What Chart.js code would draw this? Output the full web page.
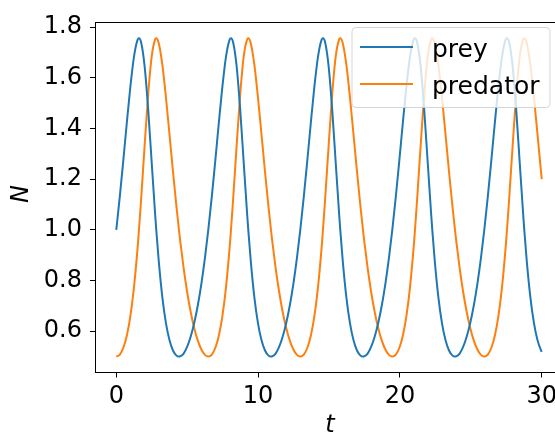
<!DOCTYPE html>
<html>
<head>
<meta charset="utf-8">
<script src="https://cdn.jsdelivr.net/npm/chart.js@4"></script>
<style>
  html, body { margin: 0; padding: 0; background: #fff; overflow: hidden; }
  canvas { display: block; }
</style>
</head>
<body>
<canvas id="lv" width="575" height="434"></canvas>
<script>
// time samples (t) and the two populations
const t = [
  0, 0.25, 0.5, 0.75, 1, 1.25, 1.5, 1.6, 1.75, 2, 2.25, 2.5, 2.75, 2.82, 3, 3.25, 3.5, 3.75, 4, 4.25, 4.42, 4.5, 4.75, 5, 5.25, 5.5, 5.75, 6, 6.25,
  6.488, 6.738, 6.988, 7.238, 7.488, 7.738, 7.988, 8.088, 8.238, 8.488, 8.738, 8.988, 9.238, 9.308, 9.488, 9.738, 9.988, 10.238, 10.488, 10.738, 10.908, 10.988, 11.238, 11.488, 11.738, 11.988, 12.238, 12.488, 12.738,
  12.975, 13.225, 13.475, 13.725, 13.975, 14.225, 14.475, 14.575, 14.725, 14.975, 15.225, 15.475, 15.725, 15.795, 15.975, 16.225, 16.475, 16.725, 16.975, 17.225, 17.395, 17.475, 17.725, 17.975, 18.225, 18.475, 18.725, 18.975, 19.225,
  19.463, 19.713, 19.963, 20.213, 20.463, 20.713, 20.963, 21.063, 21.213, 21.463, 21.713, 21.963, 22.213, 22.283, 22.463, 22.713, 22.963, 23.213, 23.463, 23.713, 23.883, 23.963, 24.213, 24.463, 24.713, 24.963, 25.213, 25.463, 25.713,
  25.95, 26.2, 26.45, 26.7, 26.95, 27.2, 27.45, 27.55, 27.7, 27.95, 28.2, 28.45, 28.7, 28.77, 28.95, 29.2, 29.45, 29.7, 29.95, 30
];
const prey = [
  1.0000, 1.1324, 1.2768, 1.4263, 1.5684, 1.6844, 1.7500, 1.7564, 1.7410, 1.6455, 1.4751, 1.2644, 1.0544, 1.0000, 0.8739, 0.7339, 0.6332, 0.5654, 0.5241, 0.5038, 0.5000, 0.5008, 0.5120, 0.5393, 0.5794, 0.6336, 0.7026, 0.7874, 0.8886,
  1.0000, 1.1324, 1.2768, 1.4263, 1.5684, 1.6844, 1.7500, 1.7564, 1.7410, 1.6455, 1.4751, 1.2644, 1.0544, 1.0000, 0.8739, 0.7339, 0.6332, 0.5654, 0.5241, 0.5038, 0.5000, 0.5008, 0.5120, 0.5393, 0.5794, 0.6336, 0.7026, 0.7874, 0.8886,
  1.0000, 1.1324, 1.2768, 1.4263, 1.5684, 1.6844, 1.7500, 1.7564, 1.7410, 1.6455, 1.4751, 1.2644, 1.0544, 1.0000, 0.8739, 0.7339, 0.6332, 0.5654, 0.5241, 0.5038, 0.5000, 0.5008, 0.5120, 0.5393, 0.5794, 0.6336, 0.7026, 0.7874, 0.8886,
  1.0000, 1.1324, 1.2768, 1.4263, 1.5684, 1.6844, 1.7500, 1.7564, 1.7410, 1.6455, 1.4751, 1.2644, 1.0544, 1.0000, 0.8739, 0.7339, 0.6332, 0.5654, 0.5241, 0.5038, 0.5000, 0.5008, 0.5120, 0.5393, 0.5794, 0.6336, 0.7026, 0.7874, 0.8886,
  1.0000, 1.1324, 1.2768, 1.4263, 1.5684, 1.6844, 1.7500, 1.7564, 1.7410, 1.6455, 1.4751, 1.2644, 1.0544, 1.0000, 0.8739, 0.7339, 0.6332, 0.5654, 0.5241, 0.5185
];
const predator = [
  0.5000, 0.5082, 0.5348, 0.5839, 0.6614, 0.7741, 0.9274, 1.0000, 1.1193, 1.3335, 1.5359, 1.6853, 1.7531, 1.7564, 1.7361, 1.6516, 1.5248, 1.3786, 1.2297, 1.0886, 1.0000, 0.9609, 0.8492, 0.7541, 0.6752, 0.6118, 0.5629, 0.5279, 0.5068,
  0.5000, 0.5082, 0.5348, 0.5839, 0.6614, 0.7741, 0.9274, 1.0000, 1.1193, 1.3335, 1.5359, 1.6853, 1.7531, 1.7564, 1.7361, 1.6516, 1.5248, 1.3786, 1.2297, 1.0886, 1.0000, 0.9609, 0.8492, 0.7541, 0.6752, 0.6118, 0.5629, 0.5279, 0.5068,
  0.5000, 0.5082, 0.5348, 0.5839, 0.6614, 0.7741, 0.9274, 1.0000, 1.1193, 1.3335, 1.5359, 1.6853, 1.7531, 1.7564, 1.7361, 1.6516, 1.5248, 1.3786, 1.2297, 1.0886, 1.0000, 0.9609, 0.8492, 0.7541, 0.6752, 0.6118, 0.5629, 0.5279, 0.5068,
  0.5000, 0.5082, 0.5348, 0.5839, 0.6614, 0.7741, 0.9274, 1.0000, 1.1193, 1.3335, 1.5359, 1.6853, 1.7531, 1.7564, 1.7361, 1.6516, 1.5248, 1.3786, 1.2297, 1.0886, 1.0000, 0.9609, 0.8492, 0.7541, 0.6752, 0.6118, 0.5629, 0.5279, 0.5068,
  0.5000, 0.5082, 0.5348, 0.5839, 0.6614, 0.7741, 0.9274, 1.0000, 1.1193, 1.3335, 1.5359, 1.6853, 1.7531, 1.7564, 1.7361, 1.6516, 1.5248, 1.3786, 1.2297, 1.2008
];
const seriesNames = ['prey', 'predator'];
const xTicks = [0, 10, 20, 30];
const yTicks = [0.6, 0.8, 1.0, 1.2, 1.4, 1.6, 1.8];

const FONT = 'DejaVu Sans';
const tickFont = { family: FONT, size: 24 };

function pts(vals) {
  return t.map(function (v, i) { return { x: v, y: vals[i] }; });
}

// top spine, axis labels and the legend box
const extras = {
  id: 'extras',
  afterDraw: function (chart) {
    const ctx = chart.ctx, a = chart.chartArea;
    const top = Math.floor(a.top) + 0.5;
    ctx.save();
    ctx.strokeStyle = '#000';
    ctx.lineWidth = 1;
    ctx.beginPath();
    ctx.moveTo(Math.floor(a.left), top);
    ctx.lineTo(a.right, top);
    ctx.moveTo(Math.floor(a.right) - 0.5, top);
    ctx.lineTo(Math.floor(a.right) - 0.5, a.bottom);
    ctx.stroke();

    // axis labels
    ctx.fillStyle = '#000';
    ctx.font = 'italic 24px "' + FONT + '"';
    ctx.textAlign = 'center';
    ctx.textBaseline = 'middle';
    ctx.fillText('t', 330, 426);
    ctx.save();
    ctx.translate(22, 194);
    ctx.rotate(-Math.PI / 2);
    ctx.fillText('N', 0, 0);
    ctx.restore();

    // legend
    const bx = 352, by = 27.5, bw = 198, bh = 80, r = 4;
    ctx.beginPath();
    ctx.moveTo(bx + r, by);
    ctx.arcTo(bx + bw, by, bx + bw, by + bh, r);
    ctx.arcTo(bx + bw, by + bh, bx, by + bh, r);
    ctx.arcTo(bx, by + bh, bx, by, r);
    ctx.arcTo(bx, by, bx + bw, by, r);
    ctx.closePath();
    ctx.fillStyle = 'rgba(255,255,255,0.8)';
    ctx.fill();
    ctx.strokeStyle = 'rgba(204,204,204,0.8)';
    ctx.stroke();

    const rows = [47, 84];
    chart.data.datasets.forEach(function (ds, i) {
      ctx.strokeStyle = ds.borderColor;
      ctx.lineWidth = 2;
      ctx.beginPath();
      ctx.moveTo(360, rows[i]);
      ctx.lineTo(413, rows[i]);
      ctx.stroke();
      ctx.fillStyle = '#000';
      ctx.font = '25px "' + FONT + '"';
      ctx.textAlign = 'left';
      ctx.textBaseline = 'alphabetic';
      ctx.fillText(ds.label, 432, rows[i] + 9.5);
    });
    ctx.restore();
  }
};

new Chart(document.getElementById('lv'), {
  type: 'line',
  data: {
    datasets: [
      { label: seriesNames[0], data: pts(prey), borderColor: '#1f77b4' },
      { label: seriesNames[1], data: pts(predator), borderColor: '#ff7f0e' }
    ]
  },
  options: {
    responsive: false,
    animation: false,
    devicePixelRatio: 1,
    layout: { padding: { top: 14.5, right: 12, left: 0, bottom: 0 } },
    elements: {
      point: { radius: 0 },
      line: { borderWidth: 2, cubicInterpolationMode: 'monotone', fill: false }
    },
    plugins: { legend: { display: false }, tooltip: { enabled: false } },
    scales: {
      x: {
        type: 'linear',
        min: -1.5,
        max: 31.5,
        afterBuildTicks: function (s) { s.ticks = xTicks.map(function (v) { return { value: v }; }); },
        afterFit: function (s) { s.height = 61.5; },
        ticks: { font: tickFont, color: '#000', padding: 5, maxRotation: 0, autoSkip: false,
                 callback: function (v) { return String(v); } },
        grid: { drawOnChartArea: false, drawTicks: true, tickLength: 5, color: '#000', lineWidth: 1 },
        border: { display: true, color: '#000', width: 1 }
      },
      y: {
        min: 0.4372,
        max: 1.8192,
        afterBuildTicks: function (s) { s.ticks = yTicks.map(function (v) { return { value: v }; }); },
        afterFit: function (s) { s.width = 95; },
        ticks: { font: tickFont, color: '#000', padding: 8, autoSkip: false,
                 callback: function (v) { return v.toFixed(1); } },
        grid: { drawOnChartArea: false, drawTicks: true, tickLength: 5, color: '#000', lineWidth: 1 },
        border: { display: true, color: '#000', width: 1 }
      }
    }
  },
  plugins: [extras]
});
</script>
</body>
</html>
